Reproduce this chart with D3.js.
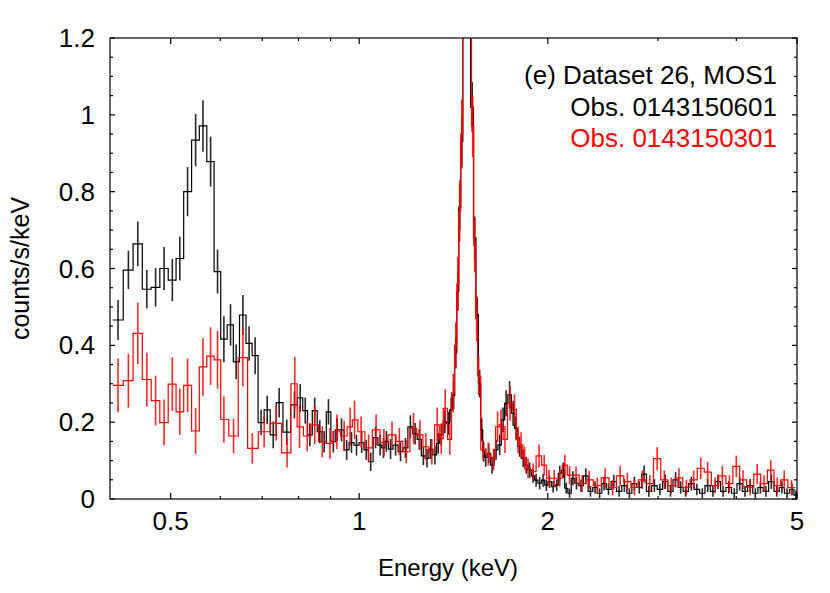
<!DOCTYPE html>
<html lang="en">
<head>
<meta charset="utf-8">
<title>Dataset 26, MOS1</title>
<script src="https://cdn.jsdelivr.net/npm/d3@7"></script>
<style>
  body { margin: 0; background: #fff; }
  text { font-family: "Liberation Sans", Arial, Helvetica, sans-serif; }
</style>
</head>
<body>
<div id="chart"></div>
<script>
// Obs. 0143150601 (black): bin centres (keV), counts/s/keV, 1-sigma errors
const blackE = [0.412, 0.428, 0.443, 0.458, 0.473, 0.488, 0.503, 0.517, 0.532, 0.548, 0.563, 0.579, 0.594, 0.608,
  0.623, 0.636, 0.652, 0.667, 0.682, 0.697, 0.713, 0.729, 0.745, 0.766, 0.788, 0.805, 0.820, 0.834, 0.849, 0.865,
  0.879, 0.893, 0.909, 0.922, 0.937, 0.955, 0.972, 0.990, 1.009, 1.026, 1.043, 1.062, 1.080, 1.093, 1.105, 1.122,
  1.143, 1.164, 1.185, 1.207, 1.228, 1.247, 1.266, 1.283, 1.301, 1.321, 1.337, 1.352, 1.370, 1.387, 1.402, 1.415,
  1.426, 1.437, 1.447, 1.458, 1.469, 1.483, 1.497, 1.515, 1.529, 1.543, 1.557, 1.569, 1.580, 1.592, 1.610, 1.630,
  1.654, 1.676, 1.697, 1.716, 1.738, 1.761, 1.780, 1.803, 1.827, 1.848, 1.871, 1.895, 1.916, 1.941, 1.966, 1.990,
  2.013, 2.040, 2.067, 2.090, 2.117, 2.140, 2.167, 2.194, 2.223, 2.26, 2.30, 2.34, 2.38, 2.42, 2.46, 2.50, 2.55,
  2.60, 2.65, 2.70, 2.75, 2.80, 2.85, 2.90, 2.96, 3.02, 3.08, 3.14, 3.20, 3.26, 3.32, 3.39, 3.46, 3.53, 3.60, 3.67,
  3.74, 3.81, 3.89, 3.97, 4.05, 4.13, 4.21, 4.29, 4.37, 4.46, 4.55, 4.64, 4.73, 4.82, 4.91, 4.98];
const blackV = [0.466, 0.596, 0.664, 0.546, 0.551, 0.600, 0.570, 0.626, 0.800, 0.934, 0.971, 0.878, 0.592, 0.416,
  0.453, 0.357, 0.479, 0.405, 0.373, 0.199, 0.232, 0.167, 0.251, 0.174, 0.245, 0.263, 0.230, 0.167, 0.230, 0.175,
  0.149, 0.227, 0.149, 0.180, 0.180, 0.128, 0.147, 0.140, 0.147, 0.128, 0.097, 0.160, 0.140, 0.133, 0.150, 0.130,
  0.140, 0.123, 0.133, 0.188, 0.170, 0.155, 0.112, 0.106, 0.130, 0.115, 0.145, 0.167, 0.201, 0.197, 0.232, 0.270,
  0.380, 0.540, 0.760, 0.930, 1.500, 2.600, 2.000, 1.020, 0.680, 0.480, 0.300, 0.180, 0.123, 0.108, 0.119, 0.088,
  0.128, 0.141, 0.206, 0.249, 0.271, 0.223, 0.184, 0.136, 0.106, 0.088, 0.075, 0.060, 0.049, 0.041, 0.049, 0.036,
  0.045, 0.032, 0.036, 0.067, 0.075, 0.028, 0.015, 0.054, 0.041, 0.035, 0.060, 0.020, 0.030, 0.015, 0.040, 0.025,
  0.045, 0.020, 0.035, 0.015, 0.040, 0.030, 0.065, 0.020, 0.035, 0.025, 0.045, 0.020, 0.050, 0.030, 0.020, 0.040,
  0.025, 0.015, 0.035, 0.020, 0.045, 0.020, 0.030, 0.015, 0.040, 0.020, 0.035, 0.015, 0.030, 0.020, 0.045, 0.020,
  0.030, 0.015, 0.025, 0.010];
const blackErr = [0.052, 0.050, 0.058, 0.050, 0.050, 0.056, 0.055, 0.057, 0.064, 0.068, 0.067, 0.065, 0.057, 0.060,
  0.054, 0.045, 0.052, 0.045, 0.048, 0.033, 0.037, 0.035, 0.038, 0.033, 0.035, 0.036, 0.034, 0.030, 0.034, 0.030,
  0.028, 0.033, 0.028, 0.030, 0.030, 0.026, 0.027, 0.027, 0.027, 0.026, 0.024, 0.028, 0.027, 0.026, 0.027, 0.026,
  0.027, 0.025, 0.026, 0.030, 0.028, 0.027, 0.024, 0.024, 0.026, 0.025, 0.027, 0.028, 0.030, 0.030, 0.032, 0.035,
  0.040, 0.050, 0.058, 0.065, 0.080, 0.100, 0.090, 0.065, 0.055, 0.045, 0.036, 0.030, 0.026, 0.024, 0.025, 0.022,
  0.026, 0.027, 0.032, 0.034, 0.036, 0.033, 0.030, 0.026, 0.023, 0.022, 0.020, 0.018, 0.017, 0.016, 0.017, 0.015,
  0.016, 0.015, 0.015, 0.020, 0.020, 0.014, 0.012, 0.018, 0.016, 0.016, 0.020, 0.014, 0.016, 0.013, 0.018, 0.015,
  0.018, 0.014, 0.017, 0.013, 0.018, 0.016, 0.022, 0.014, 0.017, 0.015, 0.019, 0.014, 0.020, 0.016, 0.014, 0.018,
  0.015, 0.013, 0.017, 0.014, 0.019, 0.014, 0.016, 0.013, 0.018, 0.014, 0.017, 0.013, 0.016, 0.014, 0.019, 0.014,
  0.016, 0.013, 0.015, 0.012];

// Obs. 0143150301 (red)
const redE = [0.412, 0.428, 0.443, 0.458, 0.473, 0.488, 0.503, 0.517, 0.532, 0.548, 0.563, 0.579, 0.594, 0.608,
  0.630, 0.652, 0.675, 0.705, 0.737, 0.767, 0.789, 0.803, 0.826, 0.849, 0.873, 0.898, 0.921, 0.946, 0.967, 0.983,
  1.007, 1.035, 1.064, 1.095, 1.128, 1.159, 1.189, 1.221, 1.250, 1.278, 1.306, 1.332, 1.352, 1.372, 1.395, 1.413,
  1.426, 1.437, 1.447, 1.458, 1.469, 1.485, 1.504, 1.518, 1.529, 1.540, 1.551, 1.576, 1.607, 1.639, 1.663, 1.684,
  1.709, 1.741, 1.770, 1.793, 1.813, 1.837, 1.860, 1.895, 1.937, 1.974, 2.009, 2.048, 2.090, 2.130, 2.167, 2.219,
  2.27, 2.33, 2.40, 2.47, 2.54, 2.61, 2.68, 2.75, 2.83, 2.91, 2.99, 3.07, 3.15, 3.24, 3.33, 3.42, 3.51, 3.60,
  3.70, 3.80, 3.90, 4.00, 4.10, 4.21, 4.32, 4.43, 4.54, 4.65, 4.77, 4.90];
const redV = [0.296, 0.308, 0.431, 0.311, 0.256, 0.199, 0.299, 0.227, 0.296, 0.177, 0.344, 0.372, 0.362, 0.207,
  0.164, 0.368, 0.132, 0.175, 0.197, 0.120, 0.300, 0.188, 0.164, 0.193, 0.149, 0.145, 0.175, 0.164, 0.188, 0.206,
  0.175, 0.133, 0.180, 0.147, 0.167, 0.150, 0.123, 0.184, 0.167, 0.136, 0.123, 0.193, 0.157, 0.236, 0.155, 0.276,
  0.400, 0.560, 0.750, 0.950, 1.400, 2.600, 1.700, 0.970, 0.660, 0.470, 0.320, 0.128, 0.117, 0.103, 0.188, 0.193,
  0.155, 0.249, 0.233, 0.154, 0.141, 0.106, 0.080, 0.071, 0.112, 0.088, 0.054, 0.054, 0.054, 0.088, 0.062, 0.062,
  0.040, 0.050, 0.035, 0.055, 0.030, 0.060, 0.045, 0.030, 0.050, 0.040, 0.105, 0.050, 0.035, 0.055, 0.030, 0.050,
  0.080, 0.070, 0.035, 0.060, 0.040, 0.085, 0.050, 0.030, 0.065, 0.040, 0.075, 0.035, 0.050, 0.030];
const redErr = [0.070, 0.070, 0.080, 0.070, 0.065, 0.060, 0.070, 0.060, 0.070, 0.060, 0.075, 0.075, 0.075, 0.060,
  0.045, 0.075, 0.040, 0.040, 0.045, 0.038, 0.070, 0.055, 0.040, 0.050, 0.040, 0.040, 0.045, 0.040, 0.050, 0.050,
  0.040, 0.035, 0.040, 0.035, 0.035, 0.035, 0.030, 0.040, 0.038, 0.035, 0.033, 0.045, 0.040, 0.050, 0.040, 0.050,
  0.060, 0.070, 0.080, 0.090, 0.100, 0.140, 0.110, 0.080, 0.070, 0.060, 0.050, 0.025, 0.030, 0.028, 0.040, 0.040,
  0.035, 0.045, 0.040, 0.035, 0.033, 0.030, 0.026, 0.022, 0.030, 0.027, 0.022, 0.022, 0.022, 0.027, 0.024, 0.022,
  0.022, 0.024, 0.021, 0.025, 0.020, 0.026, 0.023, 0.020, 0.024, 0.022, 0.030, 0.024, 0.021, 0.025, 0.020, 0.024,
  0.028, 0.027, 0.021, 0.026, 0.022, 0.028, 0.024, 0.020, 0.026, 0.022, 0.027, 0.021, 0.024, 0.020];

const xMajor = [0.5, 1, 2, 5];
const xMinor = [0.6, 0.7, 0.8, 0.9, 3, 4];
const yMajor = [0, 0.2, 0.4, 0.6, 0.8, 1, 1.2];
const legendLines = [
  { text: "(e) Dataset 26, MOS1", color: "#000" },
  { text: "Obs. 0143150601", color: "#000" },
  { text: "Obs. 0143150301", color: "#ff0000" }
];

const drawChart = () => {
  const width = 830, height = 593;
  const margin = { top: 38, right: 33, bottom: 94, left: 110 };
  const x = d3.scaleLog().domain([0.4, 5]).range([margin.left, width - margin.right]);
  const y = d3.scaleLinear().domain([0, 1.2]).range([height - margin.bottom, margin.top]);
  const x0 = x.range()[0], x1 = x.range()[1], y0 = y.range()[0], y1 = y.range()[1];

  const svg = d3.select("#chart").append("svg")
      .attr("width", width).attr("height", height)
      .attr("viewBox", [0, 0, width, height]);

  svg.append("clipPath").attr("id", "plot-clip")
    .append("rect").attr("x", x0).attr("y", y1).attr("width", x1 - x0).attr("height", y0 - y1);

  // edges between bins sit halfway (in log) between neighbouring centres
  const binEdges = E => {
    const mids = d3.pairs(E, (a, b) => Math.sqrt(a * b));
    return [E[0] * E[0] / mids[0], ...mids, E[E.length - 1] ** 2 / mids[mids.length - 1]];
  };

  const drawSpectrum = (E, V, Err, color) => {
    const edges = binEdges(E);
    const pts = [];
    V.forEach((v, i) => { pts.push([edges[i], v], [edges[i + 1], v]); });
    const g = svg.append("g").attr("clip-path", "url(#plot-clip)");
    g.append("path")
        .datum(pts)
        .attr("fill", "none")
        .attr("stroke", color)
        .attr("stroke-width", 1.2)
        .attr("d", d3.line().x(d => x(d[0])).y(d => y(d[1])));
    g.selectAll("line")
      .data(E.map((e, i) => ({ e, v: V[i], s: Err[i] })))
      .join("line")
        .attr("x1", d => x(d.e)).attr("x2", d => x(d.e))
        .attr("y1", d => y(d.v - d.s)).attr("y2", d => y(d.v + d.s))
        .attr("stroke", color)
        .attr("stroke-opacity", 0.85)
        .attr("stroke-width", 1.6);
  };

  drawSpectrum(blackE, blackV, blackErr, "#000");
  drawSpectrum(redE, redV, redErr, "#ff0000");

  // frame and inward ticks on all four sides
  const axes = svg.append("g").attr("stroke", "#000").attr("stroke-width", 1.2);
  axes.append("rect").attr("x", x0).attr("y", y1).attr("width", x1 - x0).attr("height", y0 - y1).attr("fill", "none");

  const xt = [...xMajor.map(v => ({ v, l: 6 })), ...xMinor.map(v => ({ v, l: 3 }))];
  axes.selectAll(".xt-b").data(xt).join("line")
      .attr("x1", d => x(d.v)).attr("x2", d => x(d.v)).attr("y1", y0).attr("y2", d => y0 - d.l);
  axes.selectAll(".xt-t").data(xt).join("line")
      .attr("x1", d => x(d.v)).attr("x2", d => x(d.v)).attr("y1", y1).attr("y2", d => y1 + d.l);

  const yt = d3.range(0, 1.2001, 0.05).map(v => ({ v, l: yMajor.some(m => Math.abs(m - v) < 1e-6) ? 5 : 3 }));
  axes.selectAll(".yt-l").data(yt).join("line")
      .attr("y1", d => y(d.v)).attr("y2", d => y(d.v)).attr("x1", x0).attr("x2", d => x0 + d.l);
  axes.selectAll(".yt-r").data(yt).join("line")
      .attr("y1", d => y(d.v)).attr("y2", d => y(d.v)).attr("x1", x1).attr("x2", d => x1 - d.l);

  const tickFont = 26, labelFont = 24, legendFont = 26;
  svg.append("g").selectAll("text").data(xMajor).join("text")
      .attr("x", d => x(d)).attr("y", y0 + 31)
      .attr("text-anchor", "middle")
      .attr("font-size", tickFont)
      .text(d => d);

  svg.append("g").selectAll("text").data(yMajor).join("text")
      .attr("x", x0 - 15).attr("y", d => y(d))
      .attr("dy", "0.35em")
      .attr("text-anchor", "end")
      .attr("font-size", tickFont)
      .text(d => d);

  svg.append("text")
      .attr("x", 448).attr("y", 576)
      .attr("text-anchor", "middle")
      .attr("font-size", labelFont)
      .text("Energy (keV)");

  svg.append("text")
      .attr("transform", `translate(29,${(y0 + y1) / 2}) rotate(-90)`)
      .attr("text-anchor", "middle")
      .attr("font-size", 25)
      .text("counts/s/keV");

  svg.append("g").selectAll("text").data(legendLines).join("text")
      .attr("x", 777).attr("y", (d, i) => 84 + i * 31.5)
      .attr("text-anchor", "end")
      .attr("font-size", legendFont)
      .attr("fill", d => d.color)
      .text(d => d.text);
};

if (document.readyState !== 'loading') drawChart();
else document.addEventListener('DOMContentLoaded', drawChart);
</script>
</body>
</html>
